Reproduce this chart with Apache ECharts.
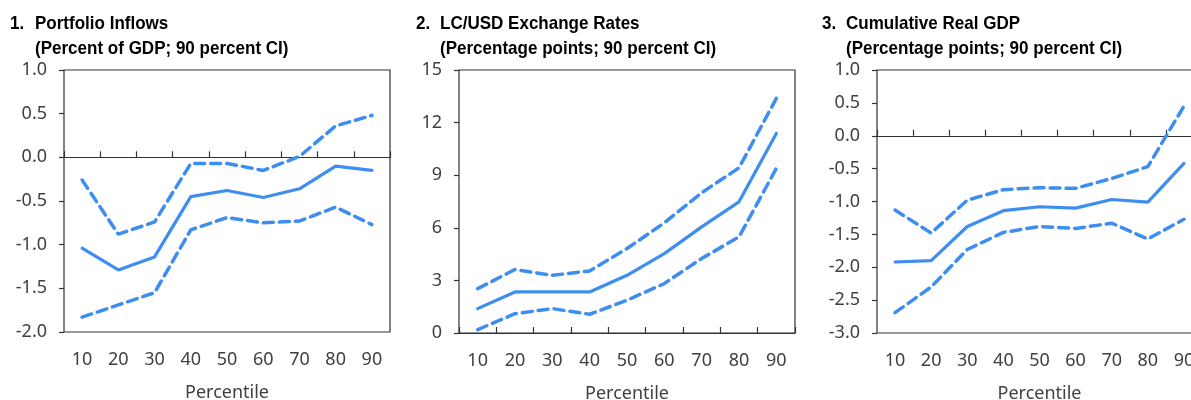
<!DOCTYPE html>
<html>
<head>
<meta charset="utf-8">
<script src="https://cdn.jsdelivr.net/npm/echarts@6/dist/echarts.min.js"></script>
<style>
html,body{margin:0;padding:0;background:#fff;}
#main{width:1191px;height:400px;}
</style>
</head>
<body>
<div id="main"></div>
<script>
// 横轴 percentiles
var percentiles=['10','20','30','40','50','60','70','80','90'];

// 1. Portfolio inflows
var inflowMid=[-1.04,-1.29,-1.14,-0.45,-0.38,-0.46,-0.36,-0.10,-0.15];
var inflowUp=[-0.26,-0.88,-0.74,-0.07,-0.07,-0.15,0.01,0.36,0.48];
var inflowLow=[-1.83,-1.69,-1.55,-0.83,-0.69,-0.75,-0.73,-0.57,-0.77];

// 2. LC/USD exchange rates
var fxMid=[1.39,2.34,2.34,2.34,3.29,4.53,6.05,7.48,11.38];
var fxUp=[2.53,3.62,3.29,3.54,4.82,6.28,8.00,9.42,13.38];
var fxLow=[0.19,1.10,1.39,1.07,1.87,2.82,4.25,5.48,9.39];

// 3. Cumulative real GDP
var gdpMid=[-1.92,-1.90,-1.38,-1.14,-1.08,-1.10,-0.97,-1.01,-0.42];
var gdpUp=[-1.13,-1.48,-0.98,-0.82,-0.79,-0.80,-0.65,-0.47,0.45];
var gdpLow=[-2.69,-2.30,-1.73,-1.47,-1.38,-1.41,-1.33,-1.57,-1.27];

var titles=[
	{num:'1.',text:'Portfolio Inflows\n(Percent of GDP; 90 percent CI)',numX:10,textX:35},
	{num:'2.',text:'LC/USD Exchange Rates\n(Percentage points; 90 percent CI)',numX:416,textX:440},
	{num:'3.',text:'Cumulative Real GDP\n(Percentage points; 90 percent CI)',numX:822,textX:846}
];

var blue='#3d8ef0';
var labelFont='"Noto Sans", "Open Sans", sans-serif';
var titleFont='bold 18.5px "Liberation Sans", Arial, sans-serif';

var grids=[
	{left:64,right:801,top:70,bottom:68},
	{left:459,right:396,top:70,bottom:67},
	{left:877,right:-11,top:70,bottom:67}
];
var yRanges=[
	{min:-2,max:1,interval:0.5,dec:1},
	{min:0,max:15,interval:3,dec:0},
	{min:-3,max:1,interval:0.5,dec:1}
];
var panelData=[
	[inflowMid,inflowUp,inflowLow],
	[fxMid,fxUp,fxLow],
	[gdpMid,gdpUp,gdpLow]
];

var myChart=echarts.init(document.getElementById('main'));

var gridArr=[],xArr=[],yArr=[],seriesArr=[],graphicArr=[];
for(var i=0;i<3;i++){
	// 标题 (窄体效果用 scaleX)
	graphicArr.push({
		type:'text',x:titles[i].numX,y:11,scaleX:0.92,
		style:{text:titles[i].num,font:titleFont,fill:'#000',lineHeight:25,textVerticalAlign:'top'}
	});
	graphicArr.push({
		type:'text',x:titles[i].textX,y:11,scaleX:0.92,
		style:{text:titles[i].text,font:titleFont,fill:'#000',lineHeight:25,textVerticalAlign:'top'}
	});
	gridArr.push({
		left:grids[i].left,right:grids[i].right,top:grids[i].top,bottom:grids[i].bottom,
		outerBoundsMode:'none',
		show:true,borderColor:'#333',borderWidth:1.2,backgroundColor:'transparent'
	});
	// 下方标签轴
	xArr.push({
		type:'category',gridIndex:i,data:percentiles,position:'bottom',boundaryGap:true,
		axisLine:{show:false,onZero:false},axisTick:{show:false},
		axisLabel:{margin:19,fontFamily:labelFont,fontSize:18,color:'#404040'},
		name:'Percentile',nameLocation:'middle',nameGap:52,
		nameTextStyle:{fontFamily:labelFont,fontSize:18,color:'#404040'}
	});
	// 零线 + 刻度
	xArr.push({
		type:'category',gridIndex:i,data:percentiles,position:'bottom',boundaryGap:true,
		axisLine:{show:true,onZero:true,lineStyle:{color:'#333',width:1.2}},
		axisTick:{show:true,inside:true,length:6,lineStyle:{color:'#333',width:1.2}},
		axisLabel:{show:false}
	});
	var r=yRanges[i];
	yArr.push({
		type:'value',gridIndex:i,min:r.min,max:r.max,interval:r.interval,
		axisLine:{show:false},
		axisTick:{show:true,length:5,lineStyle:{color:'#333',width:1.2}},
		splitLine:{show:false},
		axisLabel:{margin:17,fontFamily:labelFont,fontSize:18,color:'#404040',
			formatter:(function(d){return function(v){return v.toFixed(d);};})(r.dec)}
	});
	var d=panelData[i];
	for(var k=0;k<3;k++){
		seriesArr.push({
			type:'line',xAxisIndex:i*2,yAxisIndex:i,data:d[k],
			symbol:'none',smooth:false,z:5,
			lineStyle:{color:blue,width:k==0?3.2:3.5,type:k==0?'solid':[10,6],cap:'round'}
		});
	}
}

var option={
	animation:false,
	grid:gridArr,
	xAxis:xArr,
	yAxis:yArr,
	series:seriesArr,
	graphic:graphicArr
};
myChart.setOption(option);
</script>
</body>
</html>
